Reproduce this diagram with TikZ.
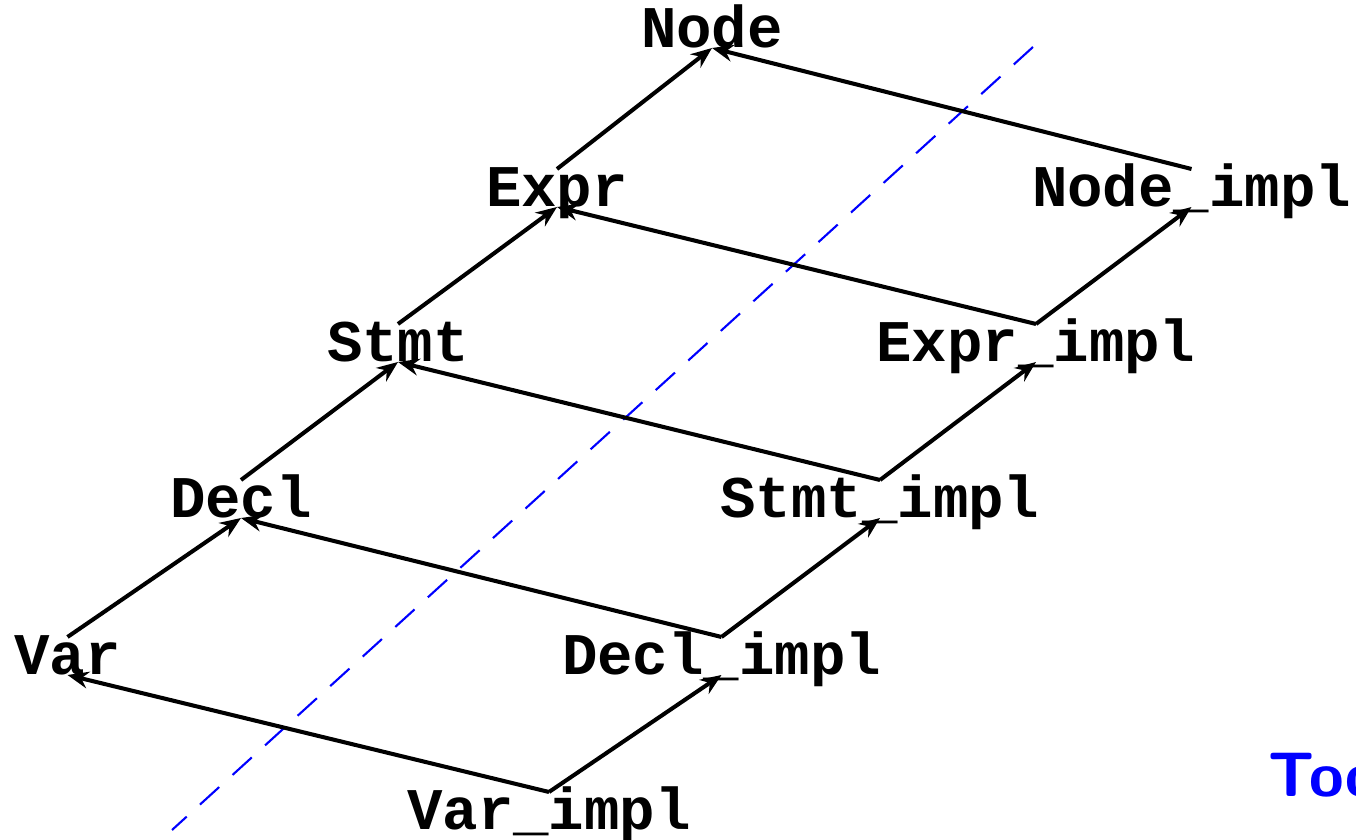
\documentclass[tikz,border=0pt]{standalone}
\usepackage{fontspec}
\setmainfont{Liberation Sans}
\setmonofont{Liberation Mono}
\usetikzlibrary{arrows.meta}
\begin{document}
\begin{tikzpicture}[
  cls/.style={inner sep=0pt, outer sep=0pt, anchor=base, text height=0.38cm, text depth=0pt,
    font=\fontsize{16.8pt}{18pt}\selectfont\ttfamily\bfseries},
  link/.style={line width=1.15pt, -{Stealth[length=6pt,width=4.8pt,inset=2pt]}},
  sep/.style={draw=blue, line width=0.6pt, dash pattern=on 0.26cm off 0.18cm}
]
\useasboundingbox (0,0) rectangle (13.56,8.4);
\node[cls] (node) at (7.12,7.92) {Node};
\node[cls] (expr) at (5.57,6.33) {Expr};
\node[cls] (stmt) at (3.98,4.78) {Stmt};
\node[cls] (decl) at (2.41,3.22) {Decl};
\node[cls] (var) at (0.675,1.65) {Var};
\node[cls] (nodei) at (11.915,6.33) {Node\_impl};
\node[cls] (expri) at (10.36,4.78) {Expr\_impl};
\node[cls] (stmti) at (8.80,3.22) {Stmt\_impl};
\node[cls] (decli) at (7.215,1.65) {Decl\_impl};
\node[cls] (vari) at (5.49,0.10) {Var\_impl};
\coordinate (dtop) at (10.33,7.93);
\coordinate (dbot) at (1.72,0.10);
\draw[sep] (dtop) -- (dbot);
% interface inheritance
\draw[link] (var.north) -- (decl.south);
\draw[link] (decl.north) -- (stmt.south);
\draw[link] (stmt.north) -- (expr.south);
\draw[link] (expr.north) -- (node.south);
% implementation inheritance
\draw[link] (vari.north) -- (decli.south);
\draw[link] (decli.north) -- (stmti.south);
\draw[link] (stmti.north) -- (expri.south);
\draw[link] (expri.north) -- (nodei.south);
% impl to interface
\draw[link] (nodei.north) -- (node.south);
\draw[link] (expri.north) -- (expr.south);
\draw[link] (stmti.north) -- (stmt.south);
\draw[link] (decli.north) -- (decl.south);
\draw[link] (vari.north) -- (var.south);
\node[inner sep=0pt, anchor=base west, text=blue, font=\fontsize{17.9pt}{20pt}\selectfont\sffamily\bfseries] (too) at (12.68,0.43) {Too};
\end{tikzpicture}
\end{document}
